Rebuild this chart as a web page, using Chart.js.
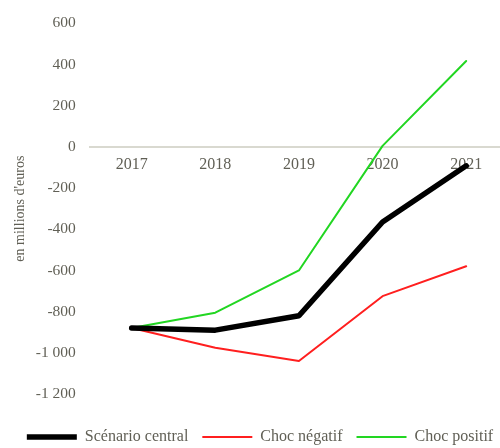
<!DOCTYPE html>
<html>
<head>
<meta charset="utf-8">
<script src="https://cdn.jsdelivr.net/npm/chart.js@4/dist/chart.umd.min.js"></script>
<style>
  html, body { margin: 0; padding: 0; background: #fff; overflow: hidden; }
  #wrap { width: 500px; height: 448px; overflow: hidden; }
</style>
</head>
<body>
<div id="wrap"><canvas id="chart" width="508" height="448"></canvas></div>
<script>
const years = ['2017', '2018', '2019', '2020', '2021'];
const central = [-880, -890, -820, -365, -92];
const chocNegatif = [-880, -975, -1040, -725, -580];
const chocPositif = [-880, -805, -600, 5, 417];

const textColor = '#605f55';
const serif = '"Liberation Serif", "Times New Roman", serif';

function frNumber(v) {
  const s = Math.abs(v).toString().replace(/\B(?=(\d{3})+(?!\d))/g, ' ');
  return (v < 0 ? '-' : '') + s;
}

new Chart(document.getElementById('chart'), {
  type: 'line',
  data: {
    labels: years,
    datasets: [
      { label: 'Scénario central', data: central, borderColor: '#000000', backgroundColor: '#000000', borderWidth: 5.5 },
      { label: 'Choc négatif', data: chocNegatif, borderColor: '#ff1f1f', backgroundColor: '#ff1f1f', borderWidth: 2 },
      { label: 'Choc positif', data: chocPositif, borderColor: '#22d622', backgroundColor: '#22d622', borderWidth: 2 }
    ]
  },
  options: {
    responsive: false,
    animation: false,
    elements: {
      point: { radius: 0 },
      line: { tension: 0, borderCapStyle: 'round', borderJoinStyle: 'round' }
    },
    layout: { padding: { top: 20, right: 0, left: 12, bottom: -7 } },
    plugins: {
      legend: {
        position: 'bottom',
        title: { display: true, text: '', font: { size: 1, lineHeight: 1 }, padding: { top: 20, bottom: 0 } },
        labels: {
          usePointStyle: true,
          pointStyle: 'line',
          pointStyleWidth: 50,
          color: textColor,
          font: { family: serif, size: 16, lineHeight: 1 },
          padding: 14
        }
      },
      tooltip: { enabled: false }
    },
    scales: {
      x: {
        position: { y: 0 },
        offset: true,
        grid: { display: false, drawTicks: false },
        border: { display: true, color: '#d9d9d0', width: 2 },
        ticks: { color: textColor, font: { family: serif, size: 16 }, padding: 8 }
      },
      y: {
        min: -1200,
        max: 600,
        grid: { display: false, drawTicks: false },
        border: { display: false },
        ticks: {
          stepSize: 200,
          color: textColor,
          font: { family: serif, size: 15.5 },
          padding: 14,
          callback: (v) => frNumber(v)
        },
        title: {
          display: true,
          text: "en millions d'euros",
          color: textColor,
          font: { family: serif, size: 14 },
          padding: { top: 0, bottom: -7 }
        }
      }
    }
  }
});
</script>
</body>
</html>
